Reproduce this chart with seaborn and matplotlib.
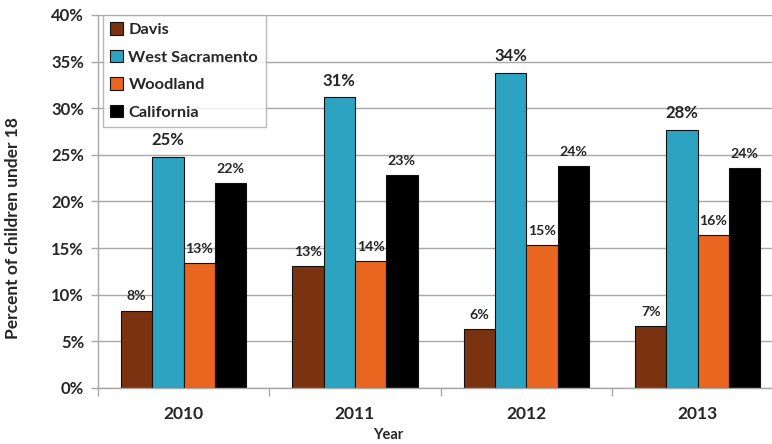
import matplotlib
matplotlib.use("Agg")
import matplotlib.pyplot as plt
import seaborn as sns
import pandas as pd
import numpy as np
from matplotlib.ticker import FixedLocator, PercentFormatter

years = ["2010", "2011", "2012", "2013"]
series = ["Davis", "West Sacramento", "Woodland", "California"]
davis = [8.3, 13.1, 6.3, 6.6]
west_sacramento = [24.8, 31.2, 33.8, 27.7]
woodland = [13.4, 13.6, 15.3, 16.4]
california = [22.0, 22.8, 23.8, 23.6]
colors = ["#7A3210", "#2CA3C1", "#E8661F", "#000000"]
y_ticks = [0, 5, 10, 15, 20, 25, 30, 35, 40]

values = [davis, west_sacramento, woodland, california]
rows = []
for s, vals in zip(series, values):
    for yr, v in zip(years, vals):
        rows.append({"Year": yr, "Series": s, "Value": v})
df = pd.DataFrame(rows)

sns.set_theme(style="white")
FONT = ["Lato", "DejaVu Sans"]
plt.rcParams["font.family"] = FONT

fig = plt.figure(figsize=(7.72, 4.44), dpi=100)
AX_W, AX_H = 685.3, 373
ax = fig.add_axes([98 / 772, 1 - 388 / 444, AX_W / 772, AX_H / 444])

sns.barplot(data=df, x="Year", y="Value", hue="Series", order=years,
            hue_order=series, palette=colors, width=0.73, ax=ax,
            edgecolor="#111111", linewidth=0.8, errorbar=None, legend=True,
            saturation=1)

ax.set_ylim(0, 40)
ax.set_xlim(-0.5, 3.5)
ax.yaxis.set_major_locator(FixedLocator(y_ticks))
ax.yaxis.set_major_formatter(PercentFormatter(decimals=0))
ax.grid(axis="y", color="#a8a8a8", linewidth=1.0)
ax.set_axisbelow(True)

for sp in ["top", "right"]:
    ax.spines[sp].set_visible(False)
for sp in ["left", "bottom"]:
    ax.spines[sp].set_color("#a8a8a8")
    ax.spines[sp].set_linewidth(1.0)

ax.tick_params(axis="y", which="major", length=5, width=1, color="#a8a8a8",
               direction="out", left=True, labelsize=12, pad=5)
ax.tick_params(axis="x", which="major", length=0, labelsize=12.5, pad=13)
ax.set_xticks(np.arange(-0.5, 4.0, 1.0), minor=True)
ax.tick_params(axis="x", which="minor", length=6, width=1, color="#a8a8a8",
               direction="out", bottom=True)
for lbl in ax.get_xticklabels() + ax.get_yticklabels():
    lbl.set_fontweight("bold")

ax.set_ylabel("Percent of children under 18", fontsize=12.5, fontweight="bold")
ax.yaxis.set_label_coords(-(98 - 21) / AX_W, (388 - 228) / AX_H)
ax.set_xlabel("Year", fontsize=10.5, fontweight="bold")
ax.xaxis.set_label_coords((388 - 98) / AX_W, -(435 - 388) / AX_H)
ax.xaxis.label.set_verticalalignment("center")

for cont, s, vals in zip(ax.containers, series, values):
    fs = 12 if s == "West Sacramento" else 10.2
    ax.bar_label(cont, labels=[f"{v:.0f}%" for v in vals], padding=6,
                 fontsize=fs, fontweight="bold")

handles, labels = ax.get_legend_handles_labels()
leg = ax.legend(handles, labels, loc="upper left",
                bbox_to_anchor=(5 / AX_W, 1.0), borderaxespad=0,
                frameon=True, fancybox=False, edgecolor="#a8a8a8",
                handlelength=0.8, handleheight=0.8, handletextpad=0.3,
                labelspacing=0.76, borderpad=0.45,
                prop={"weight": "bold", "size": 11.8, "family": FONT})
leg.get_frame().set_linewidth(1.0)

fig.savefig("out.png", dpi=100)
